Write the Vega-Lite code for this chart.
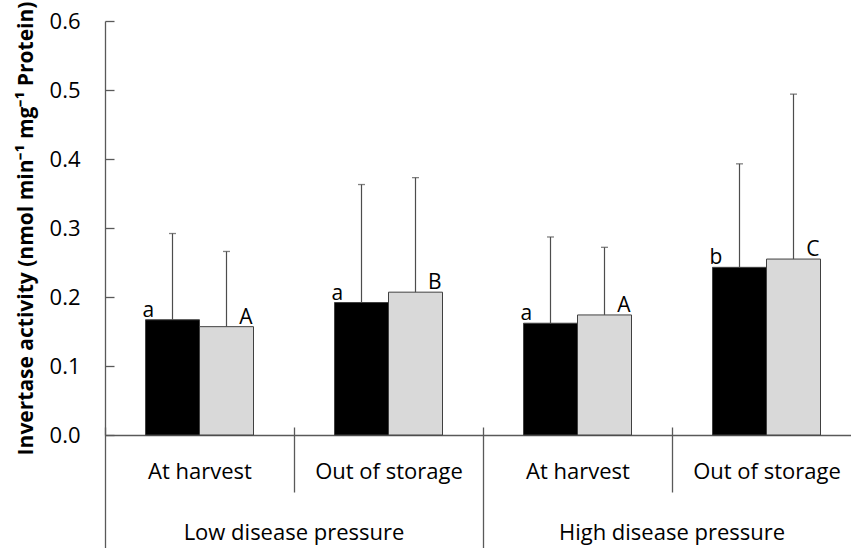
{
  "$schema": "https://vega.github.io/schema/vega-lite/v6.json",
  "width": 746,
  "height": 414,
  "autosize": {"type": "none"},
  "padding": {"left": 105, "top": 21, "right": 0, "bottom": 113},
  "background": "white",
  "config": {"view": {"stroke": null}, "font": "Open Sans", "axis": {"grid": false}},
  "data": {
    "values": [
      {"pressure": "Low disease pressure", "stage": "At harvest", "series": "S1", "value": 0.167, "upper": 0.292, "letter": "a"},
      {"pressure": "Low disease pressure", "stage": "At harvest", "series": "S2", "value": 0.157, "upper": 0.266, "letter": "A"},
      {"pressure": "Low disease pressure", "stage": "Out of storage", "series": "S1", "value": 0.192, "upper": 0.363, "letter": "a"},
      {"pressure": "Low disease pressure", "stage": "Out of storage", "series": "S2", "value": 0.207, "upper": 0.373, "letter": "B"},
      {"pressure": "High disease pressure", "stage": "At harvest", "series": "S1", "value": 0.162, "upper": 0.287, "letter": "a"},
      {"pressure": "High disease pressure", "stage": "At harvest", "series": "S2", "value": 0.174, "upper": 0.272, "letter": "A"},
      {"pressure": "High disease pressure", "stage": "Out of storage", "series": "S1", "value": 0.243, "upper": 0.393, "letter": "b"},
      {"pressure": "High disease pressure", "stage": "Out of storage", "series": "S2", "value": 0.255, "upper": 0.494, "letter": "C"}
    ]
  },
  "transform": [{"calculate": "datum.pressure + '|' + datum.stage", "as": "group"}],
  "resolve": {"axis": {"x": "independent"}},
  "layer": [
    {
      "mark": {"type": "bar", "stroke": "#404040", "strokeWidth": 1},
      "encoding": {
        "x": {
          "field": "group", "type": "nominal",
          "scale": {"domain": ["Low disease pressure|At harvest", "Low disease pressure|Out of storage", "High disease pressure|At harvest", "High disease pressure|Out of storage"], "range": [0, 756], "paddingInner": 0, "paddingOuter": 0},
          "axis": {
            "orient": "bottom", "title": null, "domain": false, "offset": -8,
            "tickOffset": -94.5, "tickColor": "#595959", "tickWidth": 1.3,
            "tickSize": {"condition": {"test": "isString(datum.value) && indexof(datum.value, 'At harvest') >= 0", "value": 121}, "value": 65},
            "labelExpr": "isString(datum.value) ? split(datum.value, '|')[1] : ''",
            "labelOffset": 94.5,
            "labelFontSize": 22, "labelColor": "black", "labelAngle": 0,
            "labelPadding": {"condition": {"test": "isString(datum.value) && indexof(datum.value, 'At harvest') >= 0", "value": -87}, "value": -31},
            "labelOverlap": false, "labelBound": false, "labelLimit": 400
          }
        },
        "xOffset": {"field": "series", "type": "nominal", "scale": {"domain": ["S1", "S2"], "paddingInner": 0, "paddingOuter": 0.75}},
        "y": {
          "field": "value", "type": "quantitative",
          "scale": {"domain": [0, 0.6], "nice": false, "zero": true},
          "axis": {
            "values": [0, 0.1, 0.2, 0.3, 0.4, 0.5, 0.6], "format": ".1f",
            "title": "Invertase activity (nmol min⁻¹ mg⁻¹ Protein)",
            "titleFont": "Open Sans", "titleFontWeight": "bold", "titleFontSize": 21, "titleColor": "black", "titlePadding": 13,
            "labelFontSize": 22, "labelColor": "black", "labelPadding": 34,
            "tickSize": -9, "tickColor": "#595959", "tickWidth": 1.3,
            "domainColor": "#595959", "domainWidth": 1.3
          }
        },
        "color": {"field": "series", "type": "nominal", "scale": {"domain": ["S1", "S2"], "range": ["#000000", "#D9D9D9"]}, "legend": null}
      }
    },
    {
      "mark": {"type": "rule", "color": "#4d4d4d", "strokeWidth": 1.2},
      "encoding": {
        "x": {"field": "group", "type": "nominal", "axis": null},
        "xOffset": {"field": "series", "type": "nominal"},
        "y": {"field": "value", "type": "quantitative"},
        "y2": {"field": "upper"}
      }
    },
    {
      "mark": {"type": "tick", "color": "#4d4d4d", "size": 7, "thickness": 1.3},
      "encoding": {
        "x": {
          "field": "group", "type": "nominal",
          "axis": {
            "orient": "bottom", "title": null, "domain": true, "domainColor": "#595959", "domainWidth": 1.3,
            "ticks": false,
            "labelExpr": "isString(datum.value) && split(datum.value, '|')[1] == 'Out of storage' ? split(datum.value, '|')[0] : ''",
            "labelOffset": -94.5, "labelFontSize": 22, "labelColor": "black", "labelPadding": 87, "labelAngle": 0,
            "labelOverlap": false, "labelBound": false, "labelLimit": 400
          }
        },
        "xOffset": {"field": "series", "type": "nominal"},
        "y": {"field": "upper", "type": "quantitative"}
      }
    },
    {
      "transform": [{"filter": "datum.series == 'S1'"}],
      "mark": {"type": "text", "align": "left", "baseline": "alphabetic", "dx": -30, "dy": -3, "fontSize": 21, "color": "black"},
      "encoding": {
        "x": {"field": "group", "type": "nominal", "axis": null},
        "xOffset": {"field": "series", "type": "nominal"},
        "y": {"field": "value", "type": "quantitative"},
        "text": {"field": "letter"}
      }
    },
    {
      "transform": [{"filter": "datum.series == 'S2'"}],
      "mark": {"type": "text", "align": "right", "baseline": "alphabetic", "dx": 26, "dy": -3, "fontSize": 21, "color": "black"},
      "encoding": {
        "x": {"field": "group", "type": "nominal", "axis": null},
        "xOffset": {"field": "series", "type": "nominal"},
        "y": {"field": "value", "type": "quantitative"},
        "text": {"field": "letter"}
      }
    }
  ]
}
